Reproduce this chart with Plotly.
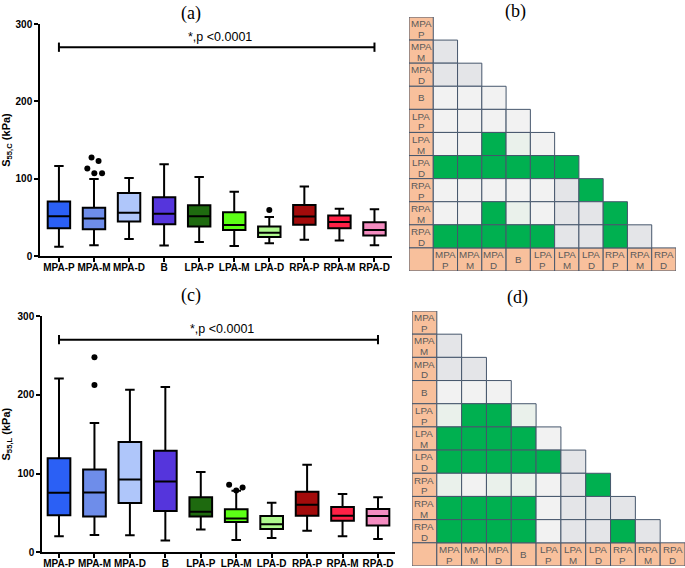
import plotly.graph_objects as go

W, H = 685, 568

categories = ["MPA-P", "MPA-M", "MPA-D", "B", "LPA-P", "LPA-M", "LPA-D", "RPA-P", "RPA-M", "RPA-D"]
box_colors = ["#2B60F5", "#6E8DEA", "#AFC6FA", "#5535DC", "#1E6A0F",
              "#5CFF16", "#AEF98E", "#A30B0B", "#FF2146", "#F48CC0"]

# Panel (a): S55,C (kPa)
a_low = [12, 14, 22, 13.5, 18, 13, 16.5, 21, 20, 14]
a_q1 = [36, 34.5, 44.5, 41, 38, 33.5, 24.5, 40.5, 36, 26.5]
a_med = [51.5, 48.5, 56, 54.5, 51.5, 40, 30, 51, 44, 33.5]
a_q3 = [70.5, 62.5, 81.5, 76, 65.5, 56.5, 38, 66, 52.5, 43.5]
a_high = [116.5, 99.5, 101, 118.5, 102, 83, 50.5, 90, 61, 60.5]
a_out_cat = [1, 1, 1, 1, 1, 6]
a_out_jit = [-0.07, 0.13, -0.19, 0.01, 0.23, 0.0]
a_out_y = [127.5, 123, 113, 107, 107, 59.5]

# Panel (c): S55,L (kPa)
c_low = [20.5, 22, 21.5, 15, 29, 15.5, 18, 27.5, 20.5, 17]
c_q1 = [47, 45.5, 62.5, 52.5, 45.5, 38.5, 29.5, 46.5, 40, 34]
c_med = [75.5, 76, 92.5, 90, 51.5, 43, 35.5, 60.5, 46.5, 46]
c_q3 = [119.5, 105, 140, 129, 70, 54.5, 46, 77, 57.5, 55]
c_high = [220.5, 164, 206.5, 210, 102, 78, 63, 111, 74, 70]
c_out_cat = [1, 1, 5, 5, 5]
c_out_jit = [0.0, 0.0, -0.2, 0.18, 0.0]
c_out_y = [247.5, 212.5, 85.8, 82.4, 78.5]

sig_text = "*,p <0.0001"
sig_level = 270

# Matrices (b) and (d): lower triangle codes, row i+1 compared with columns 0..i
# D = grey, L = light grey, T = faint green tint, G = significant (green)
matrix_b = ["D", "DD", "LLL", "LLLL", "LLGTL", "GGGGGG", "LLLLLDG", "LLGTLDDG", "GGGGGDDGD"]
matrix_d = ["D", "DD", "LLL", "TGGT", "GGGGL", "GGGGGD", "TLTTLDG", "GGGGLDDD", "GGGGLDDGD"]
cell_colors = {"D": "#E4E5E8", "L": "#F2F2F2", "T": "#EAF1EB", "G": "#00B050", "H": "#F8C09C"}
border_color = "#46566C"

fig = go.Figure()

def px_x(p):
    return p / W

def px_y(p):
    return 1 - p / H

FONT = "Arial, Liberation Sans, sans-serif"

def add_boxes(xa, ya, low, q1, med, q3, high, out_cat, out_jit, out_y):
    for i, cat in enumerate(categories):
        fig.add_trace(go.Box(
            x=[i], q1=[q1[i]], median=[med[i]], q3=[q3[i]],
            lowerfence=[low[i]], upperfence=[high[i]],
            fillcolor=box_colors[i], line=dict(color="black", width=2),
            width=0.64, whiskerwidth=0.42, boxpoints=False,
            xaxis=xa, yaxis=ya, showlegend=False, name=cat))
    fig.add_trace(go.Scatter(
        x=[c + j for c, j in zip(out_cat, out_jit)], y=out_y, mode="markers",
        marker=dict(color="black", size=6), xaxis=xa, yaxis=ya, showlegend=False))

add_boxes("x", "y", a_low, a_q1, a_med, a_q3, a_high, a_out_cat, a_out_jit, a_out_y)
add_boxes("x3", "y3", c_low, c_q1, c_med, c_q3, c_high, c_out_cat, c_out_jit, c_out_y)

def box_xaxis(domain, rng, anchor):
    return dict(domain=domain, range=rng, anchor=anchor, automargin=False, tickmode="array",
                tickvals=list(range(len(categories))), ticktext=categories, tickangle=0,
                showline=True, linecolor="black", linewidth=1.5,
                ticks="outside", ticklen=4, tickwidth=1.5, tickcolor="black",
                ticklabelstandoff=-3,
                showgrid=False, zeroline=False,
                tickfont=dict(family=FONT, size=10, color="black", weight="bold"))

def box_yaxis(domain, title, anchor):
    return dict(domain=domain, range=[0, 300], anchor=anchor, automargin=False,
                tickvals=[0, 100, 200, 300],
                showline=True, linecolor="black", linewidth=1.5,
                ticks="outside", ticklen=4, tickwidth=1.5, tickcolor="black",
                showgrid=False, zeroline=False,
                tickfont=dict(family=FONT, size=10, color="black", weight="bold"),
                title=dict(text=title, standoff=8,
                           font=dict(family=FONT, size=11, color="black", weight="bold")))

shapes = []
annotations = []

def add_sig(xa, ya):
    x0, x1 = 0, len(categories) - 1
    shapes.append(dict(type="line", xref=xa, yref=ya, x0=x0, x1=x1, y0=sig_level, y1=sig_level,
                       line=dict(color="black", width=2)))
    for xe in (x0, x1):
        shapes.append(dict(type="line", xref=xa, yref=ya, x0=xe, x1=xe,
                           y0=sig_level - 6, y1=sig_level + 6, line=dict(color="black", width=2)))
    annotations.append(dict(text=sig_text, xref=xa, yref=ya, x=4.6, y=sig_level + 13,
                            showarrow=False, font=dict(family=FONT, size=12.5, color="black")))

add_sig("x", "y")
add_sig("x3", "y3")

def add_matrix(xa, ya, codes):
    n = len(categories)
    def cell(c, r, color, cat=None):
        shapes.append(dict(type="rect", xref=xa, yref=ya, x0=c - 0.5, x1=c + 0.5,
                           y0=r - 0.5, y1=r + 0.5, fillcolor=color,
                           line=dict(color=border_color, width=1), layer="below"))
        if cat:
            parts = cat.split("-")
            if len(parts) == 1:
                pos = [(parts[0], 0.0)]
            else:
                pos = [(parts[0], -0.21), (parts[1], 0.26)]
            for txt, dy in pos:
                annotations.append(dict(text=txt, xref=xa, yref=ya, x=c, y=r + dy, showarrow=False,
                                        yanchor="middle",
                                        font=dict(family=FONT, size=9.8, color="#5A5A5A")))
    for r, cat in enumerate(categories):
        cell(0, r, cell_colors["H"], cat)
    cell(0, n, cell_colors["H"])
    for c, cat in enumerate(categories):
        cell(c + 1, n, cell_colors["H"], cat)
    for r, row in enumerate(codes):
        for c, code in enumerate(row):
            cell(c + 1, r + 1, cell_colors[code])

add_matrix("x2", "y2", matrix_b)
add_matrix("x4", "y4", matrix_d)

def mat_axis(domain, rng, anchor):
    return dict(domain=domain, range=rng, anchor=anchor, automargin=False,
                visible=False, showgrid=False, zeroline=False)

for t, x, y in [("(a)", 191, 13), ("(b)", 515, 11), ("(c)", 191, 295), ("(d)", 517, 297)]:
    annotations.append(dict(text=t, xref="paper", yref="paper", x=px_x(x), y=px_y(y),
                            showarrow=False, xanchor="center", yanchor="middle",
                            font=dict(family="Liberation Serif, Times New Roman, serif", size=18, color="black")))

fig.update_layout(
    width=W, height=H, margin=dict(l=0, r=0, t=0, b=0, autoexpand=False),
    paper_bgcolor="white", plot_bgcolor="rgba(0,0,0,0)",
    boxmode="overlay",
    xaxis=box_xaxis([px_x(40), px_x(392)], [-0.54, 9.5], "y"),
    yaxis=box_yaxis([px_y(256), px_y(24)], "S<sub>55,C</sub> (kPa)", "x"),
    xaxis3=box_xaxis([px_x(42), px_x(395)], [-0.48, 9.48], "y3"),
    yaxis3=box_yaxis([px_y(552.3), px_y(316)], "S<sub>55,L</sub> (kPa)", "x3"),
    xaxis2=mat_axis([px_x(409), px_x(676)], [-0.5, 10.5], "y2"),
    yaxis2=mat_axis([px_y(271), px_y(17)], [10.5, -0.5], "x2"),
    xaxis4=mat_axis([px_x(412), 1.0], [-0.5, 10.5], "y4"),
    yaxis4=mat_axis([px_y(566), px_y(311)], [10.5, -0.5], "x4"),
    shapes=shapes, annotations=annotations, showlegend=False,
)

fig.write_html("out.html", config={"displayModeBar": False},
               post_script="document.body.style.margin='0';document.body.style.padding='0';"
                           "document.body.style.overflow='hidden';")
